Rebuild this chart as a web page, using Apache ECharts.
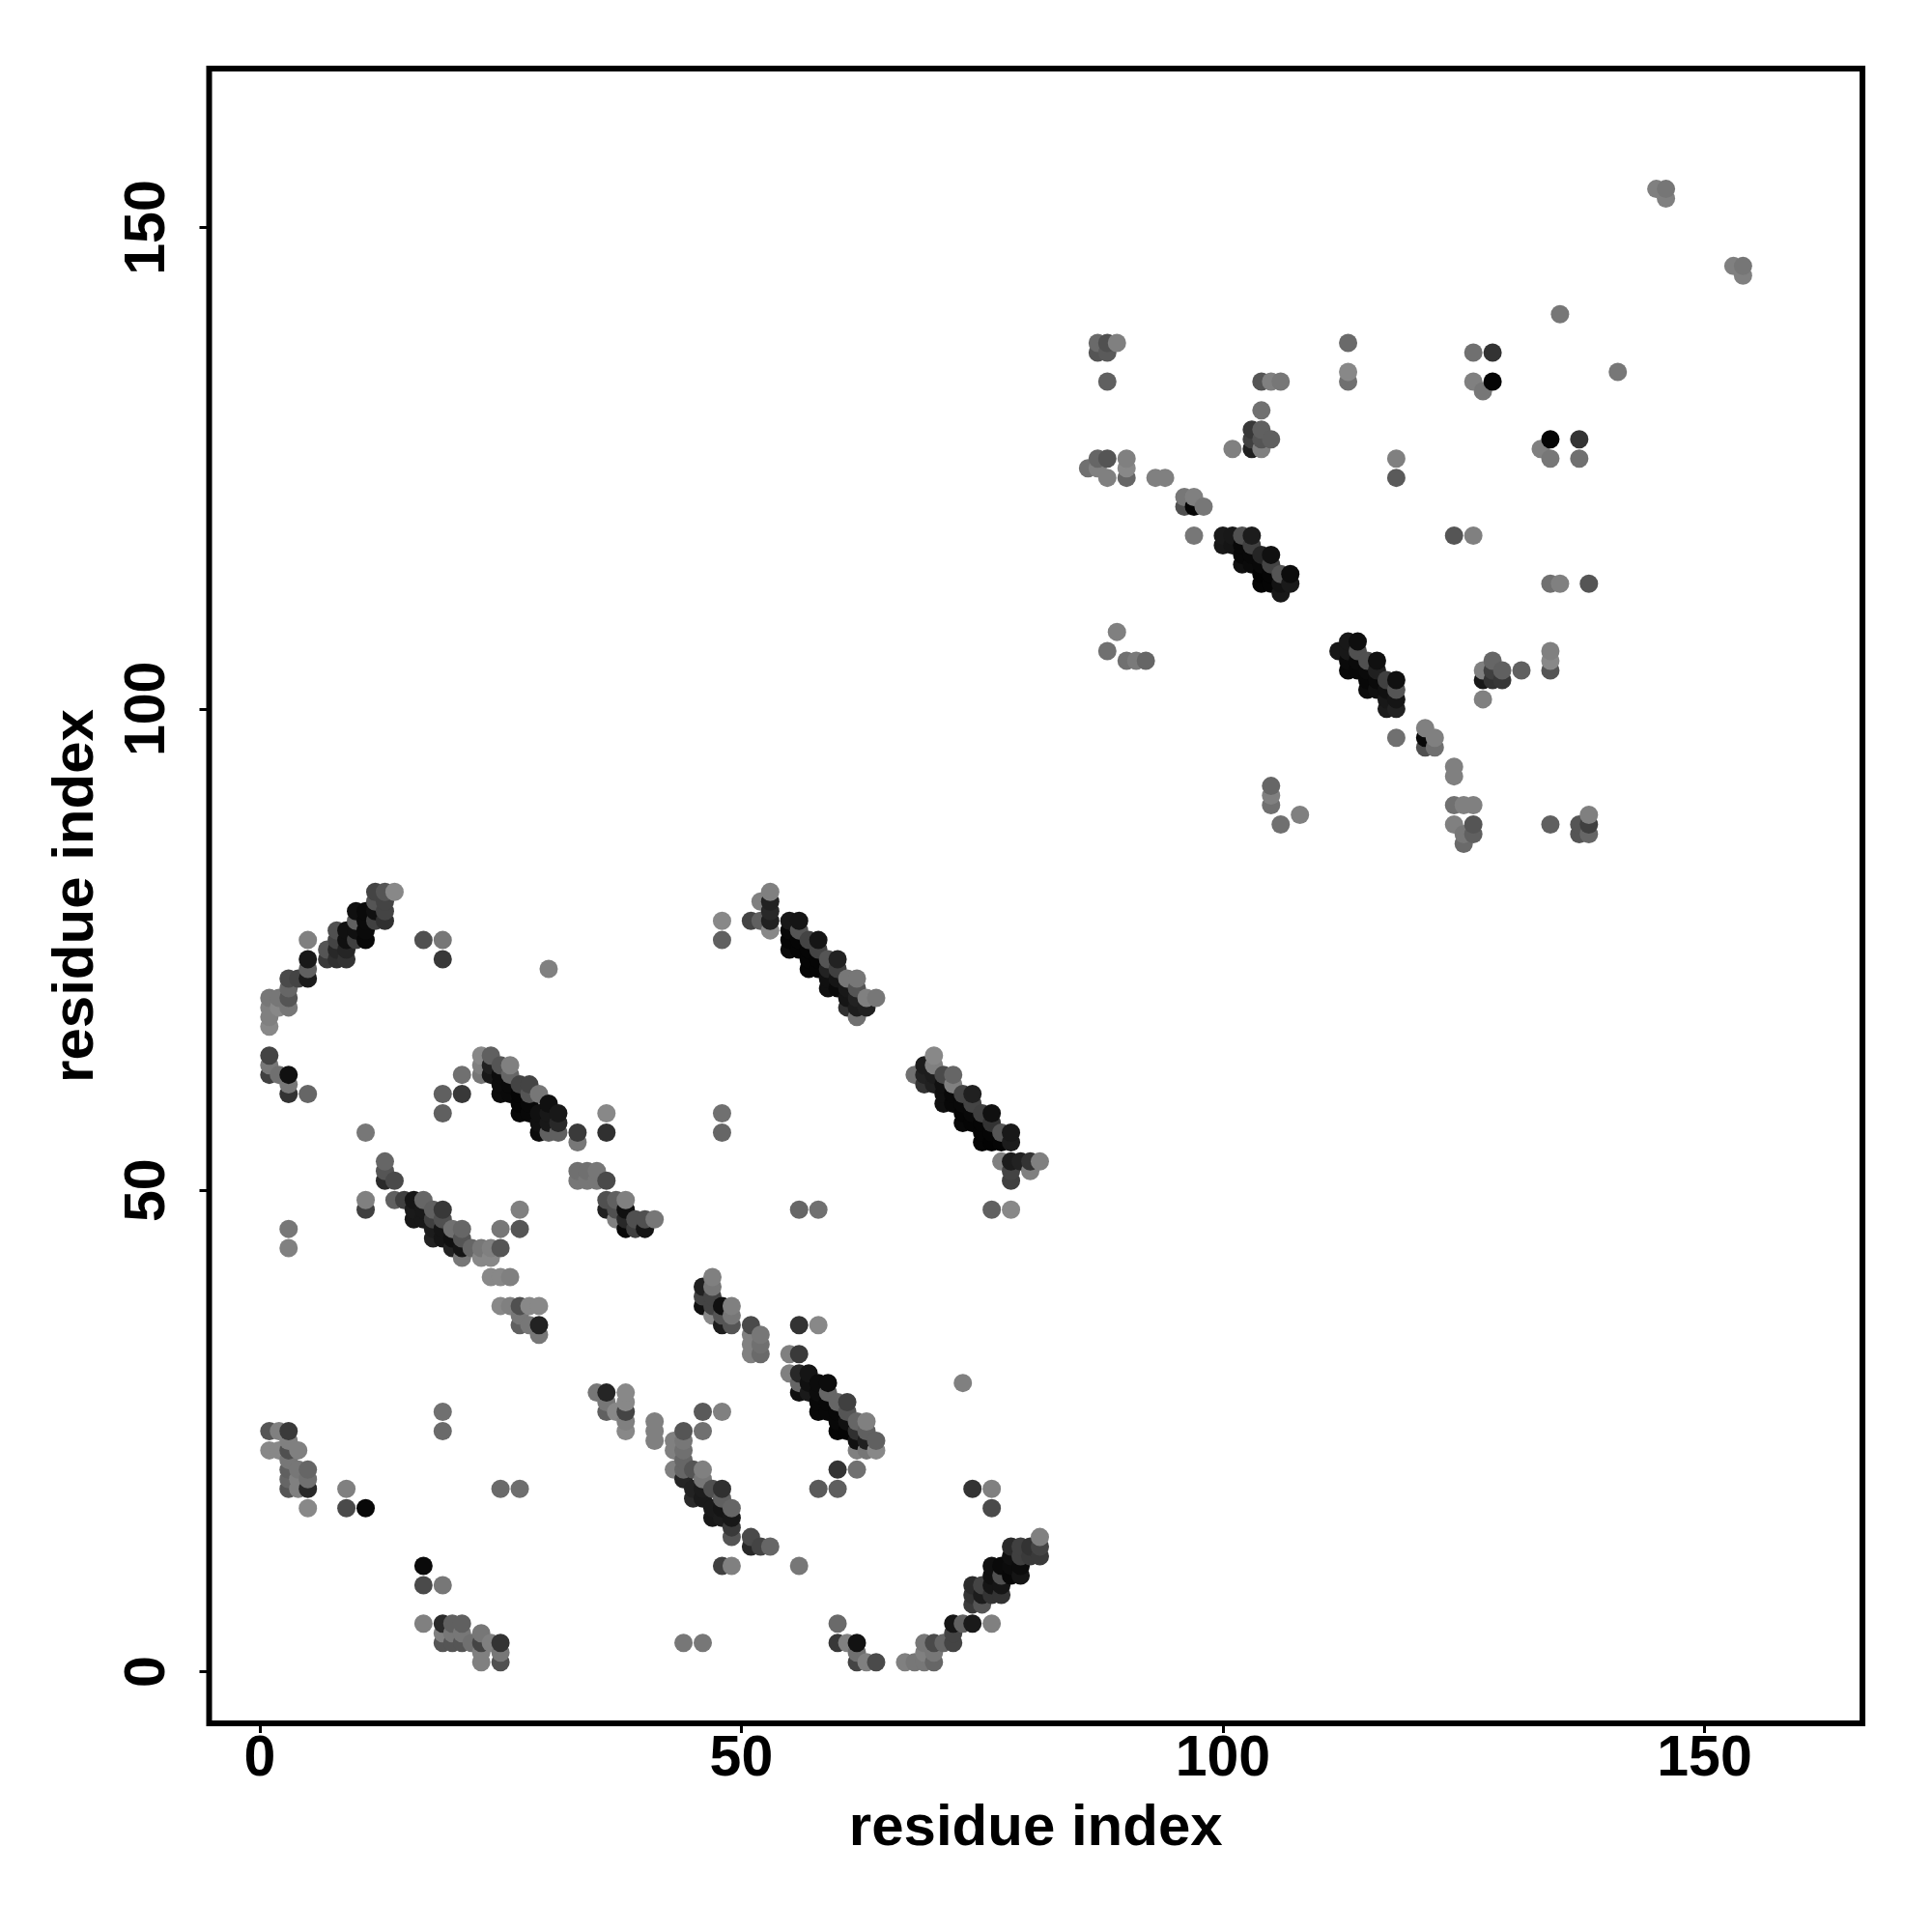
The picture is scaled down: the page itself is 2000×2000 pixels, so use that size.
<!DOCTYPE html>
<html><head><meta charset="utf-8">
<script src="https://cdn.jsdelivr.net/npm/echarts@6/dist/echarts.min.js"></script>
<style>html,body{margin:0;padding:0;background:#fff}#c{width:2000px;height:2000px}</style></head>
<body><div id="c"></div>
<script>
var tickValues = [0, 50, 100, 150];
var axisName = 'residue index';
// Each contact: [residue x, residue y, grey level]
var armA = [[1,67,0x88],[1,68,0x80],[1,69,0x80],[1,70,0x77],[2,70,0x77],[2,69,0x88],[3,69,0x77],[3,70,0x55],[3,71,0x66],[3,72,0x4a],[4,72,0x44],[5,72,0x1a],[5,73,0x60],[5,74,0x18],[5,76,0x80],[7,74,0x3a],[8,74,0x30],[9,74,0x33],[7,75,0x55],[8,75,0x28],[9,75,0x25],[8,76,0x44],[8,77,0x50],[9,77,0x10],[9,76,0x10],[10,76,0x40],[10,77,0x10],[10,78,0x60],[11,76,0x08],[11,77,0x0a],[11,78,0x0a],[11,79,0x0a],[10,79,0x10],[12,78,0x40],[12,79,0x10],[12,80,0x55],[12,81,0x44],[13,78,0x30],[13,79,0x44],[13,80,0x44],[13,81,0x55],[14,81,0x88]];
var scatterA = [[17,76,0x50],[19,76,0x77],[19,74,0x38],[30,73,0x80],[1,64,0x44],[1,63,0x77],[1,62,0x40],[2,62,0x70],[3,62,0x10],[3,61,0x77],[3,60,0x33],[5,60,0x66],[11,56,0x77],[13,53,0x66],[13,52,0x55],[13,51,0x2a],[14,51,0x4a],[11,49,0x80],[11,48,0x40],[3,46,0x77],[3,44,0x80],[19,60,0x60],[19,58,0x60],[21,62,0x70],[21,60,0x38],[36,58,0x88],[36,56,0x30]];
var stripB = [[23,64,0x88],[24,64,0x60],[23,63,0x80],[23,62,0x77],[24,63,0x20],[24,62,0x18],[25,63,0x55],[25,62,0x0c],[25,61,0x0c],[25,60,0x0c],[26,63,0x80],[26,62,0x66],[26,61,0x0a],[26,60,0x0a],[27,61,0x44],[27,60,0x05],[27,59,0x05],[27,58,0x08],[28,61,0x44],[28,60,0x55],[28,59,0x08],[28,58,0x08],[29,60,0x77],[29,58,0x10],[29,57,0x10],[29,56,0x0c],[30,59,0x10],[30,58,0x18],[30,57,0x18],[30,56,0x60],[31,58,0x18],[31,57,0x28],[31,56,0x60],[33,56,0x3a],[33,55,0x77]];
var stripC = [[33,52,0x70],[33,51,0x77],[34,52,0x70],[34,51,0x77],[35,52,0x77],[35,51,0x77],[36,51,0x4a],[36,49,0x50],[37,49,0x60],[38,49,0x80],[36,48,0x20],[37,47,0x80],[37,48,0x50],[38,48,0x10],[38,47,0x28],[38,46,0x08],[39,47,0x50],[39,46,0x40],[40,47,0x50],[41,47,0x77],[40,46,0x15]];
var stripD = [[14,49,0x60],[15,49,0x40],[16,49,0x15],[16,48,0x1a],[16,47,0x18],[17,49,0x66],[17,48,0x18],[17,47,0x18],[18,48,0x60],[18,47,0x40],[18,46,0x1c],[18,45,0x22],[19,48,0x38],[19,47,0x50],[19,46,0x15],[19,45,0x15],[20,46,0x70],[20,45,0x10],[20,44,0x22],[21,46,0x66],[21,45,0x55],[21,44,0x15],[22,44,0x66],[23,44,0x77],[24,44,0x80],[25,44,0x55],[25,46,0x77],[27,46,0x55],[27,48,0x80],[21,43,0x77],[23,43,0x88],[24,43,0x88],[24,41,0x88],[25,41,0x88],[26,41,0x80],[25,38,0x88],[26,38,0x80],[27,38,0x50],[28,38,0x88],[29,38,0x88],[27,37,0x77],[27,36,0x60],[28,36,0x77],[29,36,0x22],[29,35,0x77]];
var stripE = [[48,78,0x88],[48,76,0x60],[53,81,0x80],[52,80,0x80],[53,80,0x22],[53,79,0x28],[53,78,0x20],[53,77,0x88],[51,78,0x44],[52,78,0x60],[55,78,0x18],[56,78,0x15],[56,77,0x55],[55,77,0x08],[55,76,0x05],[55,75,0x0a],[56,76,0x05],[56,75,0x05],[57,76,0x44],[58,76,0x15],[57,75,0x05],[57,74,0x05],[57,73,0x05],[58,75,0x44],[58,74,0x05],[58,73,0x05],[59,74,0x55],[59,73,0x22],[59,72,0x10],[59,71,0x10],[60,74,0x22],[60,73,0x40],[60,72,0x15],[60,71,0x0a],[61,72,0x77],[62,72,0x77],[61,71,0x18],[61,70,0x15],[61,69,0x30],[62,71,0x55],[62,70,0x22],[62,69,0x1c],[62,68,0x70],[63,70,0x80],[64,70,0x77],[63,69,0x20]];
var stripF = [[68,62,0x70],[69,63,0x1c],[69,62,0x22],[69,61,0x33],[70,64,0x88],[70,63,0x80],[70,62,0x1c],[70,61,0x20],[71,62,0x4a],[72,62,0x66],[72,61,0x80],[71,61,0x10],[71,60,0x10],[71,59,0x10],[72,60,0x08],[72,59,0x08],[73,60,0x44],[74,60,0x20],[74,59,0x44],[73,59,0x08],[73,58,0x05],[73,57,0x08],[74,58,0x08],[74,57,0x05],[75,58,0x40],[76,58,0x10],[76,57,0x33],[75,57,0x05],[75,56,0x05],[75,55,0x05],[76,56,0x05],[76,55,0x03],[77,56,0x55],[78,56,0x18],[78,55,0x1c],[77,55,0x05],[77,53,0x80],[78,53,0x1c],[79,53,0x22],[80,53,0x33],[81,53,0x80],[78,52,0x44],[78,51,0x40],[80,52,0x80],[76,48,0x60],[78,48,0x88],[56,48,0x66],[58,48,0x70],[48,58,0x70],[48,56,0x66]];
var blockG = [[19,27,0x70],[19,25,0x6a],[35,29,0x77],[36,29,0x25],[36,28,0x77],[36,27,0x60],[37,27,0x88],[38,29,0x88],[38,28,0x88],[38,27,0x44],[38,26,0x80],[38,25,0x88],[1,25,0x55],[2,25,0x80],[3,25,0x3a],[1,23,0x88],[2,23,0x88],[3,24,0x80],[3,23,0x50],[4,23,0x80],[3,22,0x77],[3,21,0x60],[3,20,0x66],[3,19,0x55],[4,21,0x77],[4,20,0x80],[4,19,0x80],[5,21,0x66],[5,20,0x70],[5,19,0x28],[5,17,0x88],[9,19,0x80],[9,17,0x4a],[11,17,0x08],[25,19,0x6a],[27,19,0x6e],[17,11,0x0a],[17,9,0x4a],[19,9,0x77],[17,5,0x80],[19,5,0x2a],[20,5,0x60],[21,5,0x60],[19,4,0x80],[19,3,0x55],[20,4,0x77],[20,3,0x55],[21,4,0x77],[21,3,0x55],[22,3,0x70],[23,4,0x77],[23,3,0x44],[23,2,0x80],[23,1,0x80],[24,3,0x80],[25,3,0x33],[25,2,0x77],[25,1,0x50]];
var stripH = [[41,26,0x80],[41,25,0x80],[41,24,0x80],[43,24,0x80],[43,23,0x80],[43,21,0x80],[44,25,0x55],[44,24,0x77],[44,23,0x70],[44,22,0x66],[44,21,0x66],[44,20,0x25],[45,21,0x55],[46,21,0x80],[46,20,0x77],[45,19,0x22],[45,18,0x2a],[46,19,0x1c],[46,18,0x1a],[47,19,0x50],[48,19,0x30],[48,18,0x60],[47,17,0x1a],[47,16,0x18],[48,17,0x15],[48,16,0x1c],[49,17,0x66],[49,16,0x18],[49,15,0x3a],[49,14,0x55],[51,14,0x4a],[51,13,0x28],[52,13,0x44],[53,13,0x66],[48,11,0x40],[49,11,0x80],[56,11,0x77],[46,27,0x5a],[48,27,0x80],[46,25,0x70],[44,3,0x77],[46,3,0x77]];
var stripI = [[47,41,0x80],[47,40,0x77],[46,40,0x20],[46,39,0x44],[46,38,0x10],[47,39,0x44],[47,37,0x88],[47,38,0x44],[48,38,0x10],[49,38,0x80],[49,37,0x77],[48,37,0x55],[48,36,0x1c],[49,36,0x55],[51,36,0x4a],[51,35,0x80],[51,34,0x80],[51,33,0x80],[52,35,0x77],[52,34,0x70],[52,33,0x6a],[56,36,0x33],[58,36,0x88],[55,33,0x80],[56,33,0x3a]];
var stripJ = [[55,31,0x80],[56,31,0x28],[57,31,0x15],[56,30,0x66],[56,29,0x10],[57,30,0x10],[57,29,0x1a],[58,30,0x0c],[58,29,0x0c],[59,30,0x0c],[59,29,0x66],[58,28,0x08],[58,27,0x08],[59,28,0x08],[59,27,0x08],[60,28,0x66],[61,28,0x40],[60,27,0x08],[60,26,0x08],[60,25,0x05],[61,27,0x55],[61,26,0x10],[61,25,0x05],[62,26,0x66],[63,26,0x80],[62,25,0x30],[62,24,0x10],[63,25,0x60],[63,24,0x20],[62,23,0x80],[63,23,0x77],[64,24,0x60],[64,23,0x88],[60,21,0x33],[62,21,0x70],[58,19,0x5a],[60,19,0x5e],[73,30,0x80],[74,19,0x33],[76,19,0x80],[76,17,0x4a]];
var arcK = [[81,14,0x80],[81,13,0x44],[81,12,0x3a],[80,13,0x33],[80,12,0x3a],[78,13,0x2a],[79,13,0x40],[78,12,0x10],[79,12,0x40],[76,11,0x10],[77,11,0x0a],[78,11,0x0c],[79,11,0x0c],[79,10,0x15],[78,10,0x08],[77,10,0x50],[76,10,0x10],[75,9,0x44],[74,9,0x2a],[76,9,0x15],[77,9,0x15],[74,8,0x33],[75,8,0x1c],[76,8,0x33],[77,8,0x33],[74,7,0x3a],[75,7,0x55],[72,5,0x15],[73,5,0x60],[74,5,0x1a],[76,5,0x80],[72,4,0x44],[72,3,0x44],[71,3,0x66],[70,3,0x4a],[69,3,0x77],[69,2,0x80],[70,2,0x77],[70,1,0x66],[69,1,0x77],[68,1,0x77],[67,1,0x80],[60,5,0x6a],[60,3,0x38],[61,3,0x80],[62,3,0x12],[62,2,0x70],[62,1,0x44],[63,1,0x80],[64,1,0x4a]];
var upperL = [[87,138,0x6a],[88,138,0x50],[89,138,0x80],[87,137,0x55],[88,137,0x5a],[88,134,0x60],[104,134,0x55],[105,134,0x80],[106,134,0x77],[113,138,0x6a],[113,135,0x88],[113,134,0x70],[126,137,0x70],[128,137,0x33],[126,134,0x80],[128,134,0x05],[127,133,0x77],[104,131,0x70],[103,129,0x38],[104,129,0x60],[103,128,0x40],[104,128,0x55],[105,128,0x5f],[103,127,0x20],[104,127,0x80],[101,127,0x80],[87,126,0x66],[88,126,0x55],[86,125,0x70],[87,125,0x80],[88,124,0x80],[90,126,0x80],[90,125,0x88],[90,124,0x66],[93,124,0x80],[94,124,0x80],[118,126,0x80],[118,124,0x5a],[96,122,0x77],[97,122,0x80],[96,121,0x50],[97,121,0x05],[98,121,0x77],[97,118,0x77],[124,118,0x55],[126,118,0x80],[89,108,0x80],[88,106,0x70],[90,105,0x70],[91,105,0x7a],[92,105,0x66]];
var stripM = [[100,118,0x1a],[101,118,0x18],[102,118,0x50],[103,118,0x1c],[100,117,0x18],[101,117,0x15],[102,117,0x08],[103,117,0x40],[102,116,0x08],[103,116,0x08],[104,116,0x25],[105,116,0x10],[102,115,0x10],[103,115,0x0a],[104,115,0x08],[105,115,0x44],[104,114,0x03],[105,114,0x05],[106,114,0x55],[107,114,0x0c],[104,113,0x05],[105,113,0x05],[106,113,0x12],[107,113,0x1a],[106,112,0x18]];
var stripN = [[114,107,0x0e],[113,107,0x18],[112,106,0x18],[113,106,0x18],[114,106,0x50],[115,105,0x50],[116,105,0x10],[113,104,0x08],[114,104,0x08],[113,105,0x0a],[114,105,0x0a],[115,104,0x0a],[116,104,0x20],[115,103,0x08],[116,103,0x0a],[117,103,0x40],[118,103,0x10],[115,102,0x0c],[116,102,0x10],[117,102,0x10],[118,102,0x55],[117,101,0x18],[118,101,0x15],[117,100,0x1c],[118,100,0x22]];
var lowerO = [[118,97,0x70],[121,98,0x80],[122,97,0x80],[121,97,0x08],[121,96,0x50],[122,96,0x70],[124,94,0x80],[124,93,0x80],[124,90,0x70],[125,90,0x80],[126,90,0x80],[124,88,0x80],[126,88,0x55],[125,87,0x77],[126,87,0x60],[125,86,0x6a],[105,92,0x66],[105,91,0x80],[105,90,0x70],[108,89,0x80],[106,88,0x70],[134,88,0x60],[137,88,0x55],[138,89,0x80],[138,88,0x40],[137,87,0x55],[138,87,0x66],[127,101,0x80],[127,104,0x80],[127,103,0x18],[128,105,0x66],[128,104,0x40],[128,103,0x33],[129,104,0x60],[129,103,0x38],[131,104,0x60],[134,106,0x80],[134,105,0x88],[134,104,0x55]];
var farP = [[145,154,0x80],[146,154,0x76],[146,153,0x80],[153,146,0x80],[154,146,0x76],[154,145,0x80],[135,141,0x77],[141,135,0x77],[134,128,0x05],[137,128,0x33],[137,126,0x70],[134,126,0x77],[133,127,0x80],[138,113,0x55],[134,113,0x70],[135,113,0x80]];

var contacts = [].concat(armA, scatterA, stripB, stripC, stripD, stripE, stripF, blockG, stripH, stripI, stripJ, arcK, upperL, stripM, stripN, lowerO, farP);
contacts.sort(function (a, b) { return a[0] - b[0] || a[1] - b[1]; });

var font = 'Liberation Sans';
var axisCommon = {
  type: 'value', name: axisName, nameLocation: 'middle',
  nameTextStyle: { fontFamily: font, fontWeight: 'bold', fontSize: 60, color: '#000' },
  splitLine: { show: false }, axisLine: { show: false, onZero: false },
  axisTick: { show: true, length: 10, lineStyle: { color: '#000', width: 3 }, customValues: tickValues },
  axisLabel: { fontFamily: font, fontWeight: 'bold', fontSize: 59, color: '#000', customValues: tickValues, margin: 8 }
};
var chart = echarts.init(document.getElementById('c'), null, { renderer: 'canvas' });
chart.setOption({
  animation: false, backgroundColor: '#fff',
  grid: { left: 216.5, right: 72, top: 71, bottom: 216, show: true, borderColor: '#000', borderWidth: 6, backgroundColor: 'transparent' },
  xAxis: Object.assign({}, axisCommon, { min: -5.25, max: 166.4, nameGap: 79 }),
  yAxis: Object.assign({}, axisCommon, { min: -5.35, max: 166.5, nameGap: 107,
    axisLabel: Object.assign({}, axisCommon.axisLabel, { rotate: 90, margin: 33 }) }),
  series: [{
    type: 'scatter', symbol: 'circle', symbolSize: 19, silent: true,
    itemStyle: { opacity: 1 },
    data: contacts.map(function (c) {
      return { value: [c[0], c[1]], itemStyle: { opacity: 1, color: 'rgb(' + c[2] + ',' + c[2] + ',' + c[2] + ')' } };
    })
  }]
});
</script></body></html>
